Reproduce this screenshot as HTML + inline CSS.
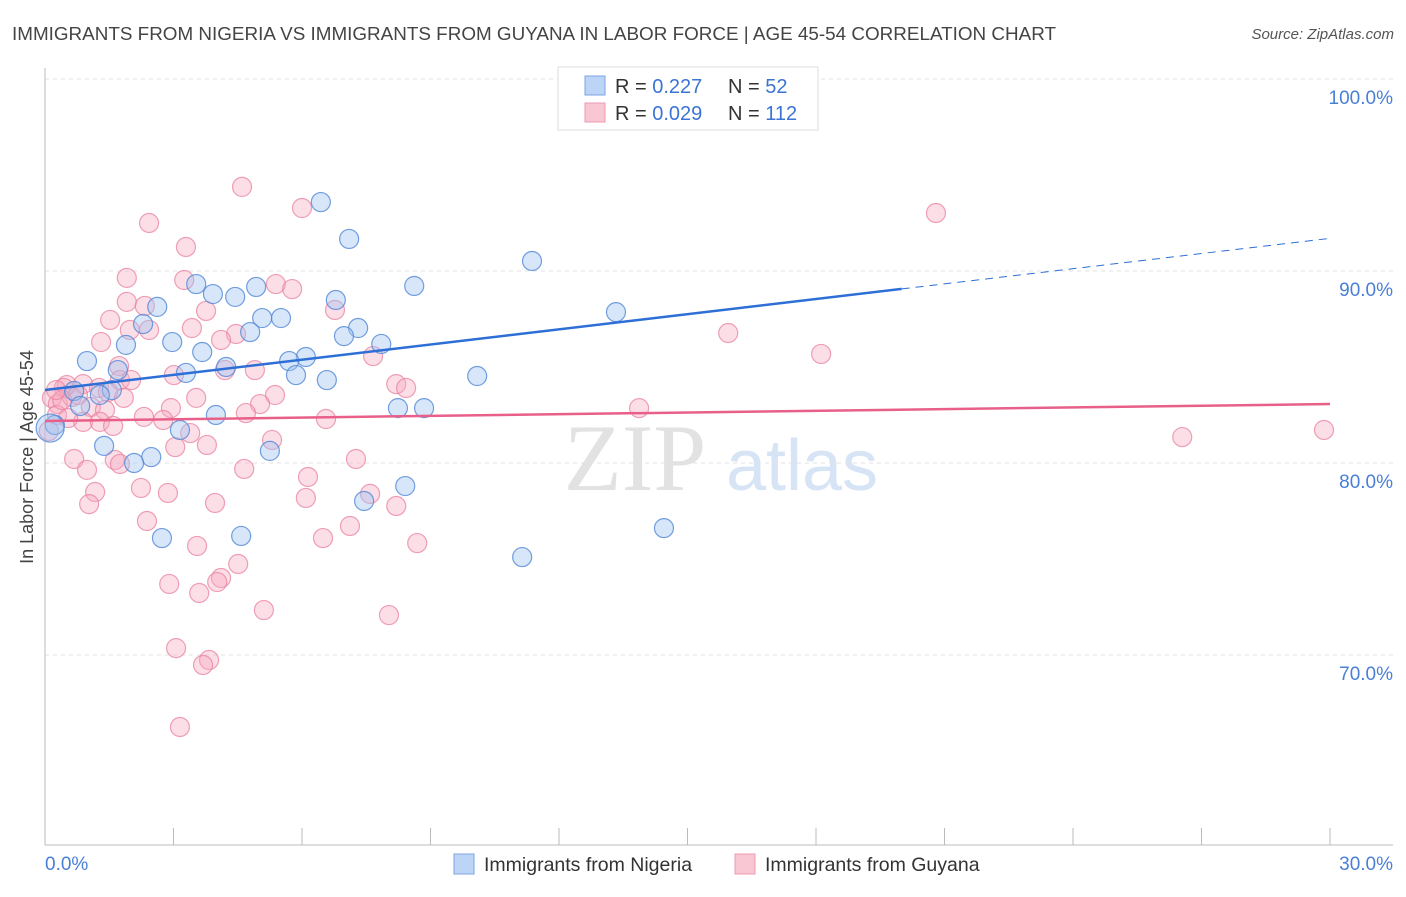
<!DOCTYPE html>
<html><head><meta charset="utf-8"><style>
body{margin:0;background:#fff;font-family:"Liberation Sans",sans-serif}
</style></head><body>
<svg id="chart" width="1406" height="892" xmlns="http://www.w3.org/2000/svg" font-family="Liberation Sans, sans-serif">
<text x="12" y="40" font-size="18.5" fill="#444" textLength="1044" lengthAdjust="spacingAndGlyphs">IMMIGRANTS FROM NIGERIA VS IMMIGRANTS FROM GUYANA IN LABOR FORCE | AGE 45-54 CORRELATION CHART</text>
<text x="1394" y="39" font-size="15" fill="#555" text-anchor="end" font-style="italic">Source: ZipAtlas.com</text>
<g>
<text x="635" y="490" font-size="95" fill="#e2e2e2" text-anchor="middle" font-family="Liberation Serif, serif">ZIP</text>
<text x="802" y="490" font-size="72" fill="#d6e4f5" text-anchor="middle">atlas</text>
</g>
<g id="grid"></g><g id="axes"></g><g id="pts"></g><g id="trends"></g>
<text transform="translate(33,457) rotate(-90)" font-size="18" fill="#444" text-anchor="middle">In Labor Force | Age 45-54</text>
<g>
<rect x="558" y="67" width="260" height="63" fill="#fff" stroke="#ddd"/>
<rect x="585" y="76" width="20" height="19" fill="#bcd4f5" stroke="#7aa5e2"/>
<rect x="585" y="103" width="20" height="19" fill="#f9c6d4" stroke="#eb9ab1"/>
<text x="615" y="93" font-size="20" fill="#333">R = <tspan fill="#3b74d4">0.227</tspan><tspan x="728">N = </tspan><tspan fill="#3b74d4">52</tspan></text>
<text x="615" y="120" font-size="20" fill="#333">R = <tspan fill="#3b74d4">0.029</tspan><tspan x="728">N = </tspan><tspan fill="#3b74d4">112</tspan></text>
</g>
<g>
<rect x="454" y="854" width="20" height="20" fill="#bcd4f5" stroke="#7aa5e2"/>
<text x="484" y="871" font-size="19.5" fill="#333">Immigrants from Nigeria</text>
<rect x="735" y="854" width="20" height="20" fill="#f9c6d4" stroke="#eb9ab1"/>
<text x="765" y="871" font-size="19.5" fill="#333">Immigrants from Guyana</text>
</g>
</svg>
<script>
const nigeriaX=[16.70,6.44,7.10,11.37,3.53,8.62,3.92,4.44,4.93,6.79,2.62,13.33,5.07,5.51,2.29,4.79,7.31,2.97,6.98,1.89,7.85,3.67,6.09,0.98,5.70,4.23,1.70,3.29,5.86,10.09,6.58,0.68,1.56,1.28,0.82,8.24,8.85,3.99,0.23,3.15,1.38,5.25,2.48,2.08,8.41,7.45,4.58,2.73,14.45,11.14,0.12];
const nigeriaY=[99.95,93.59,91.67,90.52,89.32,89.22,88.80,88.65,89.17,88.49,88.13,87.86,87.55,87.55,87.24,86.82,87.03,86.30,86.61,86.15,86.20,85.78,85.52,85.31,85.31,85.00,84.84,84.69,84.58,84.53,84.32,83.75,83.80,83.54,82.97,82.86,82.86,82.50,81.98,81.72,80.89,80.63,80.31,80.00,78.80,78.02,76.20,76.09,76.61,75.10,81.82];
const guyanaX=[4.60,2.43,6.00,20.80,3.29,1.91,3.25,5.39,5.77,1.91,2.33,3.76,6.77,1.52,3.43,2.43,1.98,4.46,4.11,1.31,15.95,18.12,7.66,4.90,4.20,1.73,3.01,1.75,2.01,0.51,0.89,1.26,8.20,8.43,3.53,5.37,1.84,0.44,0.16,0.30,0.63,1.47,1.07,1.40,5.02,2.94,4.69,13.87,2.31,2.76,0.89,1.28,1.59,6.56,0.28,0.54,0.09,3.39,3.78,3.04,5.30,26.55,29.86,0.68,1.63,7.26,4.65,0.98,1.75,6.14,1.17,2.24,2.87,6.09,1.03,3.97,7.59,8.20,2.38,7.12,6.49,8.69,3.55,4.51,4.11,4.02,2.90,3.60,5.11,8.03,3.06,3.83,3.69,3.15,0.40,0.77,0.26];
const guyanaY=[94.38,92.50,93.28,93.02,91.25,89.64,89.53,89.32,89.06,88.39,88.18,87.92,87.97,87.45,87.03,86.93,86.93,86.72,86.41,86.30,86.77,85.68,85.57,84.84,84.84,85.05,84.58,84.32,84.32,84.06,84.11,83.91,84.11,83.91,83.39,83.54,83.39,83.91,83.39,83.07,83.44,83.70,82.92,82.76,83.07,82.86,82.60,82.86,82.40,82.24,82.14,82.14,81.93,82.29,82.50,82.34,81.67,81.56,80.94,80.83,81.20,81.35,81.72,80.21,80.16,80.21,79.69,79.64,79.95,79.27,78.49,78.70,78.44,78.18,77.86,77.92,78.39,77.76,76.98,76.72,76.09,75.83,75.68,74.74,74.01,73.80,73.70,73.23,72.34,72.08,70.36,69.74,69.48,66.25,83.28,83.54,83.80];
const yTicks=[100,90,80,70];
const yTickLabels=["100.0%","90.0%","80.0%","70.0%"];
const xTickVals=[0,3,6,9,12,15,18,21,24,27,30];
const xEndLabels=["0.0%","30.0%"];
const nigeriaTrend=[83.8,91.7];
const guyanaTrend=[82.19,83.07];
const NS="http://www.w3.org/2000/svg";
const X=v=>45+v/30*1285, Y=v=>79+(100-v)*19.2;
function mk(t,a,p){const e=document.createElementNS(NS,t);for(const k in a)e.setAttribute(k,a[k]);p.appendChild(e);return e;}
const grid=document.getElementById('grid'),axes=document.getElementById('axes'),pts=document.getElementById('pts'),tr=document.getElementById('trends');
yTicks.forEach((v,i)=>{
 const l=mk('line',{x1:45,x2:1393,y1:Y(v),y2:Y(v),stroke:'#e2e2e2','stroke-dasharray':'4,4'},grid);
 
 
 const t=mk('text',{x:1393,y:Y(v)+25,'font-size':19,fill:'#4a7fd6','text-anchor':'end'},axes);
 t.textContent=yTickLabels[i];
 
 
});
const la=mk('line',{x1:45,x2:45,y1:68,y2:845,stroke:'#bbb'},axes);


const lb=mk('line',{x1:45,x2:1393,y1:845,y2:845,stroke:'#bbb'},axes);


xTickVals.forEach(v=>{
 const t=mk('line',{x1:X(v),x2:X(v),y1:828,y2:845,stroke:'#bbb'},axes);
 
 
});
[[0,'start',45],[30,'end',1393]].forEach((d,i)=>{
 const t=mk('text',{x:d[2],y:870,'font-size':19,fill:'#4a7fd6','text-anchor':d[1]},axes);
 t.textContent=xEndLabels[i];
 
 
});
guyanaX.forEach((x,i)=>{
 const c=mk('circle',{cx:X(x),cy:Y(guyanaY[i]),r:9.5,fill:'rgba(246,168,192,0.38)',stroke:'rgba(232,130,160,0.75)','stroke-width':1.2},pts);
 
 
});
nigeriaX.forEach((x,i)=>{
 const c=mk('circle',{cx:X(x),cy:Y(nigeriaY[i]),r:i==nigeriaX.length-1?14:9.5,fill:'rgba(160,196,240,0.42)',stroke:'rgba(80,135,215,0.8)','stroke-width':1.2},pts);
 
 
});
const yb=x=>nigeriaTrend[0]+(nigeriaTrend[1]-nigeriaTrend[0])*x/30;
const b1=mk('line',{x1:X(0),y1:Y(yb(0)),x2:X(20),y2:Y(yb(20)),stroke:'#2d6fd6','stroke-width':2.5},tr);


const b2=mk('line',{x1:X(20),y1:Y(yb(20)),x2:X(30),y2:Y(yb(30)),stroke:'#2d6fd6','stroke-width':1,'stroke-dasharray':'8,6'},tr);


const p1=mk('line',{x1:X(0),y1:Y(guyanaTrend[0]),x2:X(30),y2:Y(guyanaTrend[1]),stroke:'#e8608a','stroke-width':2.5},tr);


</script>
</body></html>
